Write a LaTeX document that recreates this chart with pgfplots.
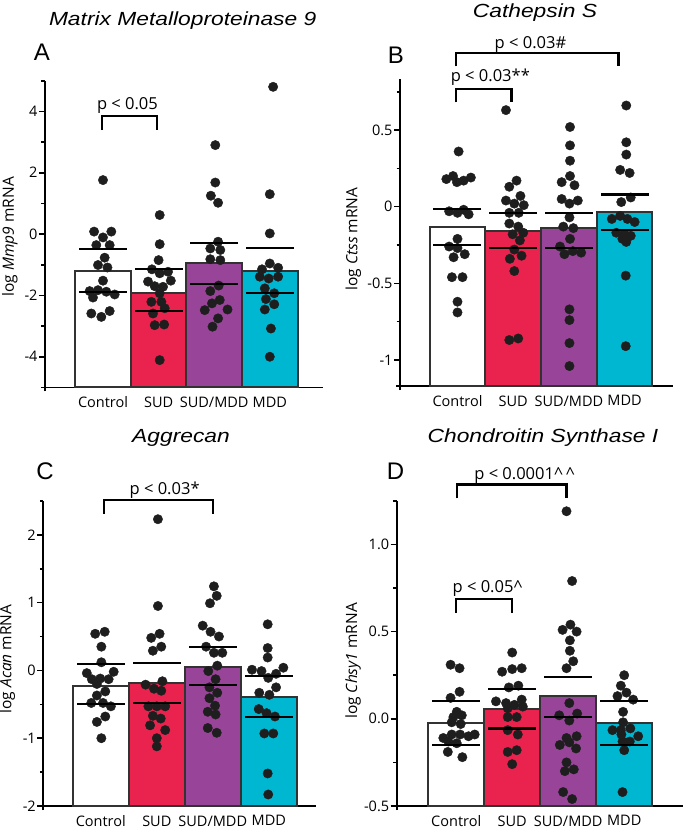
\documentclass[border=0pt]{standalone}
\usepackage{fontspec}
\usepackage{graphicx}
\usepackage{pgfplots}
\pgfplotsset{compat=1.18}
\setmainfont{Open Sans}
\newfontfamily\arial{Liberation Sans}

\definecolor{sud}{RGB}{233,35,77}
\definecolor{both}{RGB}{152,68,152}
\definecolor{mdd}{RGB}{0,183,210}
\definecolor{edge}{RGB}{50,50,50}
\definecolor{dot}{RGB}{30,30,30}

\newcommand\tk{\fontsize{14.5}{16}\selectfont}
\newcommand\lb{\fontsize{14.5}{16}\selectfont}
\newcommand\yl{\fontsize{15.5}{17}\selectfont}
\newcommand\sig{\fontsize{16.5}{18}\selectfont}
\newcommand\ttl[1]{\scalebox{1.2}[1]{\arial\itshape\fontsize{19}{21}\selectfont #1}}
\newcommand\pl{\arial\fontsize{24}{26}\selectfont}

\tikzset{brk/.style={line width=2.2pt, black}}
\pgfplotsset{
  panel/.style={
    scale only axis, anchor=south west, clip=false,
    axis lines=left,
    axis line style={-, line width=1.6pt, black, shorten <=-4pt},
    tick align=outside, major tick length=6pt, minor tick length=3.5pt,
    tick style={black, line width=1.6pt},
    xtick={1,2,3,4}, xticklabels={Control,SUD,SUD/MDD,MDD},
    xtick style={draw=none},
    yticklabel style={font=\tk, xshift=2pt}, xticklabel style={font=\lb},
    ylabel style={anchor=center, font=\yl},
  },
  bar/.style={draw=edge, line width=2pt},
  err/.style={only marks, mark=-, mark size=24pt, mark options={line width=2.2pt, black}},
  pts/.style={only marks, mark=*, mark size=4.7pt, color=dot},
}

\begin{document}
\begin{tikzpicture}
\path[use as bounding box] (0pt,0pt) rectangle (685pt,-831pt);

% ---------------- A: Mmp9
\begin{axis}[panel, at={(45pt,-387.4pt)}, width=278pt, height=306.7pt,
  xmin=-0.043, xmax=4.957, ymin=-5, ymax=5,
  ytick={-4,-2,0,2,4}, yticklabels={-4,-2,0,2,4},
  minor ytick={-3,-1,1,3,5},
  ylabel={log \textit{Mmp9} mRNA},
  ylabel style={at={(axis description cs:-0.126,0.491)}}]
\addplot[bar, fill=white] coordinates {(0.5,-5) (0.5,-1.2) (1.5,-1.2) (1.5,-5)} -- cycle;
\addplot[bar, fill=sud] coordinates {(1.5,-5) (1.5,-1.92) (2.5,-1.92) (2.5,-5)} -- cycle;
\addplot[bar, fill=both] coordinates {(2.5,-5) (2.5,-0.96) (3.5,-0.96) (3.5,-5)} -- cycle;
\addplot[bar, fill=mdd] coordinates {(3.5,-5) (3.5,-1.2) (4.5,-1.2) (4.5,-5)} -- cycle;
\addplot[pts] coordinates {(1.00,1.76) (0.84,0.08) (1.15,0.08) (1.00,-0.11) (0.88,-0.36) (1.12,-0.36)
  (1.03,-0.77) (0.91,-1.01) (1.08,-1.09) (1.00,-1.52) (0.76,-1.86) (0.91,-1.83) (1.06,-1.88)
  (1.21,-1.97) (0.82,-2.07) (0.79,-2.59) (0.97,-2.70) (1.12,-2.51)};
\addplot[pts] coordinates {(2.02,0.62) (2.02,-0.33) (2.00,-0.85) (1.88,-1.15) (2.02,-1.28) (2.17,-1.23)
  (1.81,-1.55) (2.22,-1.52) (2.08,-1.72) (1.93,-1.70) (2.02,-1.93) (1.87,-2.21) (2.05,-2.21)
  (2.11,-2.42) (1.90,-2.59) (1.93,-2.97) (2.10,-2.95) (2.02,-4.11)};
\addplot[pts] coordinates {(3.02,2.90) (3.02,1.68) (2.94,1.25) (3.07,1.02) (3.07,-0.25) (2.93,-0.47)
  (3.11,-0.52) (2.93,-0.82) (3.11,-0.85) (3.08,-1.68) (2.93,-1.86) (2.96,-2.26) (3.10,-2.15)
  (2.83,-2.48) (3.24,-2.46) (3.07,-2.75) (2.97,-3.02)};
\addplot[pts] coordinates {(4.06,4.80) (4.00,1.30) (4.00,0.02) (4.00,-0.96) (3.86,-1.15) (4.15,-1.10)
  (3.82,-1.39) (3.98,-1.45) (4.15,-1.39) (3.91,-1.77) (4.08,-1.93) (3.93,-2.12) (4.08,-2.29)
  (3.91,-2.46) (4.02,-3.08) (4.00,-4.00)};
\addplot[err] coordinates {(1,-0.48) (1,-1.89) (2,-1.15) (2,-2.52) (3,-0.30) (3,-1.64) (4,-0.46) (4,-1.91)};
\draw[brk] (axis cs:0.98,3.39) |- (axis cs:1.97,3.85) -- (axis cs:1.97,3.39);
\node[anchor=base, font=\sig] at (axis cs:1.44,4.07) {p < 0.05};
\end{axis}

% ---------------- B: Ctss
\begin{axis}[panel, at={(400pt,-386pt)}, width=273.3pt, height=307.3pt,
  xmin=-0.032, xmax=4.874, ymin=-1.17, ymax=0.835,
  ytick={-1,-0.5,0,0.5}, yticklabels={-1,-0.5,0,0.5},
  minor ytick={-0.75,-0.25,0.25,0.75},
  ylabel={log \textit{Ctss} mRNA},
  ylabel style={at={(axis description cs:-0.171,0.478)}}]
\addplot[bar, fill=white] coordinates {(0.5,-1.17) (0.5,-0.135) (1.5,-0.135) (1.5,-1.17)} -- cycle;
\addplot[bar, fill=sud] coordinates {(1.5,-1.17) (1.5,-0.157) (2.5,-0.157) (2.5,-1.17)} -- cycle;
\addplot[bar, fill=both] coordinates {(2.5,-1.17) (2.5,-0.14) (3.5,-0.14) (3.5,-1.17)} -- cycle;
\addplot[bar, fill=mdd] coordinates {(3.5,-1.17) (3.5,-0.033) (4.5,-0.033) (4.5,-1.17)} -- cycle;
\addplot[pts] coordinates {(1.02,0.36) (0.80,0.18) (0.92,0.20) (1.11,0.17) (0.99,0.16) (1.24,0.19)
  (0.85,-0.03) (1.00,-0.04) (1.11,-0.02) (1.20,-0.05) (1.00,-0.21) (0.85,-0.26) (1.00,-0.27)
  (0.93,-0.33) (1.13,-0.31) (0.90,-0.46) (1.09,-0.46) (1.00,-0.62) (1.00,-0.69)};
\addplot[pts] coordinates {(1.87,0.63) (2.06,0.17) (1.93,0.13) (2.13,0.07) (1.87,0.04) (2.02,0.02)
  (2.19,0.01) (1.93,-0.04) (2.10,-0.04) (1.93,-0.11) (2.09,-0.13) (2.18,-0.17) (1.99,-0.18)
  (2.12,-0.22) (2.02,-0.28) (1.94,-0.34) (2.15,-0.32) (2.02,-0.42) (1.93,-0.87) (2.09,-0.86)};
\addplot[pts] coordinates {(3.02,0.52) (3.02,0.40) (3.02,0.30) (3.02,0.20) (2.87,0.16) (3.10,0.14)
  (2.87,0.05) (3.01,0.02) (3.16,0.04) (3.01,-0.07) (2.90,-0.13) (3.08,-0.14) (3.02,-0.21)
  (2.84,-0.26) (2.92,-0.31) (3.07,-0.29) (3.22,-0.30) (3.01,-0.67) (3.01,-0.74) (3.01,-0.89)
  (3.01,-1.04)};
\addplot[pts] coordinates {(4.03,0.66) (4.03,0.42) (4.03,0.34) (3.92,0.24) (4.09,0.22) (4.11,0.06)
  (3.94,0.03) (3.77,-0.08) (3.92,-0.06) (4.05,-0.08) (4.18,-0.10) (3.85,-0.17) (4.00,-0.18)
  (4.11,-0.19) (3.96,-0.21) (4.03,-0.23) (4.02,-0.45) (4.02,-0.91)};
\addplot[err] coordinates {(1,-0.015) (1,-0.25) (2,-0.04) (2,-0.27) (3,-0.04) (3,-0.27) (4,0.08) (4,-0.15)};
\draw[brk] (axis cs:0.97,0.68) |- (axis cs:1.97,0.768) -- (axis cs:1.97,0.68);
\node[anchor=base, font=\sig] at (axis cs:1.59,0.815) {p < 0.03**};
\draw[brk] (axis cs:0.97,0.915) |- (axis cs:3.89,1.003) -- (axis cs:3.89,0.915);
\node[anchor=base, font=\sig] at (axis cs:2.31,1.035) {p < 0.03\#};
\end{axis}

% ---------------- C: Acan
\begin{axis}[panel, at={(43.3pt,-806pt)}, width=272.7pt, height=305.1pt,
  xmin=-0.027, xmax=4.843, ymin=-2, ymax=2.5,
  ytick={-2,-1,0,1,2}, yticklabels={-2,-1,0,1,2},
  minor ytick={-1.5,-0.5,0.5,1.5,2.5},
  ylabel={log \textit{Acan} mRNA},
  ylabel style={at={(axis description cs:-0.132,0.482)}}]
\addplot[bar, fill=white] coordinates {(0.5,-2) (0.5,-0.23) (1.5,-0.23) (1.5,-2)} -- cycle;
\addplot[bar, fill=sud] coordinates {(1.5,-2) (1.5,-0.19) (2.5,-0.19) (2.5,-2)} -- cycle;
\addplot[bar, fill=both] coordinates {(2.5,-2) (2.5,0.055) (3.5,0.055) (3.5,-2)} -- cycle;
\addplot[bar, fill=mdd] coordinates {(3.5,-2) (3.5,-0.39) (4.5,-0.39) (4.5,-2)} -- cycle;
\addplot[pts] coordinates {(0.90,0.54) (1.07,0.57) (1.01,0.35) (1.01,0.12) (0.75,-0.04) (1.23,-0.02)
  (0.84,-0.13) (0.99,-0.12) (1.14,-0.13) (0.93,-0.20) (1.08,-0.31) (0.93,-0.37) (0.83,-0.48)
  (1.04,-0.48) (1.18,-0.53) (1.08,-0.68) (0.93,-0.76) (1.01,-1.00)};
\addplot[pts] coordinates {(2.02,2.23) (2.02,0.95) (1.90,0.48) (2.05,0.54) (1.93,0.29) (2.08,0.35)
  (1.80,-0.21) (2.10,-0.16) (1.95,-0.27) (2.08,-0.30) (1.85,-0.53) (2.00,-0.53) (2.15,-0.53)
  (1.93,-0.67) (2.07,-0.71) (1.88,-0.81) (2.15,-0.88) (2.00,-1.00) (2.00,-1.12)};
\addplot[pts] coordinates {(3.02,1.24) (3.07,1.10) (2.95,0.99) (2.82,0.66) (2.96,0.57) (3.11,0.50)
  (2.88,0.35) (3.02,0.26) (3.17,0.26) (3.08,0.07) (2.92,-0.01) (3.05,-0.13) (2.94,-0.25)
  (3.08,-0.33) (2.94,-0.41) (3.04,-0.52) (2.91,-0.61) (3.05,-0.65) (2.91,-0.85) (3.07,-0.92)};
\addplot[pts] coordinates {(3.98,0.68) (3.98,0.33) (3.98,0.19) (3.70,0.01) (3.87,-0.01) (4.26,0.04)
  (4.13,-0.05) (3.99,-0.11) (4.13,-0.25) (3.83,-0.33) (4.01,-0.36) (3.82,-0.57) (3.96,-0.63)
  (4.11,-0.68) (3.92,-0.93) (4.08,-0.93) (3.98,-1.52) (3.99,-1.83)};
\addplot[err] coordinates {(1,0.09) (1,-0.49) (2,0.11) (2,-0.48) (3,0.35) (3,-0.21) (4,-0.08) (4,-0.69)};
\draw[brk] (axis cs:1.06,2.31) |- (axis cs:3.01,2.51) -- (axis cs:3.01,2.31);
\node[anchor=base, font=\sig] at (axis cs:2.14,2.59) {p < 0.03*};
\end{axis}

% ---------------- D: Chsy1
\begin{axis}[panel, at={(396.7pt,-806pt)}, width=286.3pt, height=305.2pt,
  xmin=-0.0625, xmax=5.05, ymin=-0.5, ymax=1.25,
  ytick={-0.5,0,0.5,1}, yticklabels={-0.5,0.0,0.5,1.0},
  minor ytick={-0.25,0.25,0.75,1.25},
  ylabel={log \textit{Chsy1} mRNA},
  ylabel style={at={(axis description cs:-0.152,0.475)}}]
\addplot[bar, fill=white] coordinates {(0.5,-0.5) (0.5,-0.023) (1.5,-0.023) (1.5,-0.5)} -- cycle;
\addplot[bar, fill=sud] coordinates {(1.5,-0.5) (1.5,0.054) (2.5,0.054) (2.5,-0.5)} -- cycle;
\addplot[bar, fill=both] coordinates {(2.5,-0.5) (2.5,0.13) (3.5,0.13) (3.5,-0.5)} -- cycle;
\addplot[bar, fill=mdd] coordinates {(3.5,-0.5) (3.5,-0.026) (4.5,-0.026) (4.5,-0.5)} -- cycle;
\addplot[pts] coordinates {(0.90,0.31) (1.06,0.29) (1.06,0.155) (0.90,0.12) (1.01,0.04) (0.95,0.01)
  (1.10,0.02) (0.92,-0.02) (1.08,-0.03) (0.77,-0.11) (0.92,-0.09) (1.07,-0.09) (1.22,-0.10)
  (1.33,-0.09) (0.86,-0.13) (1.01,-0.14) (0.85,-0.19) (1.11,-0.22)};
\addplot[pts] coordinates {(2.00,0.38) (1.82,0.27) (2.00,0.285) (2.17,0.29) (1.94,0.18) (2.11,0.19)
  (1.71,0.10) (1.89,0.09) (2.17,0.11) (1.92,0.06) (2.04,0.08) (2.19,0.07) (1.92,0.01)
  (2.08,0.01) (1.92,-0.065) (2.10,-0.09) (1.92,-0.19) (2.08,-0.18) (2.00,-0.26)};
\addplot[pts] coordinates {(2.97,1.19) (3.07,0.79) (3.04,0.54) (2.90,0.51) (3.15,0.50) (3.03,0.45)
  (3.03,0.39) (3.09,0.33) (2.97,0.29) (3.02,0.09) (2.84,0.02) (3.16,0.03) (3.02,-0.01)
  (2.97,-0.11) (3.15,-0.10) (2.85,-0.15) (3.02,-0.135) (3.14,-0.17) (2.97,-0.25) (3.10,-0.29)
  (2.94,-0.30) (2.91,-0.42) (3.07,-0.46)};
\addplot[pts] coordinates {(4.00,0.25) (3.94,0.19) (3.88,0.13) (4.04,0.15) (4.16,0.11) (3.98,0.04)
  (3.98,-0.02) (3.79,-0.065) (3.94,-0.065) (4.11,-0.055) (3.95,-0.09) (4.25,-0.10) (4.10,-0.13)
  (3.97,-0.13) (4.00,-0.18) (3.97,-0.42)};
\addplot[err] coordinates {(1,0.10) (1,-0.15) (2,0.17) (2,-0.055) (3,0.24) (3,0.01) (4,0.10) (4,-0.15)};
\draw[brk] (axis cs:1.00,0.608) |- (axis cs:1.99,0.686) -- (axis cs:1.99,0.608);
\node[anchor=base, font=\sig] at (axis cs:1.56,0.722) {p < 0.05\textasciicircum};
\draw[brk] (axis cs:1.01,1.264) |- (axis cs:2.97,1.344) -- (axis cs:2.97,1.264);
\node[anchor=base, font=\sig] at (axis cs:2.22,1.373) {p < 0.0001\textasciicircum\,\textasciicircum};
\end{axis}

% titles and panel letters
\node[anchor=base] at (182.7pt,-25pt) {\ttl{Matrix Metalloproteinase 9}};
\node[anchor=base] at (535pt,-17.3pt) {\ttl{Cathepsin S}};
\node[anchor=base] at (181pt,-442.7pt) {\ttl{Aggrecan}};
\node[anchor=base] at (543pt,-442.7pt) {\ttl{Chondroitin Synthase I}};
\node[anchor=base, font=\pl] at (42pt,-60.5pt) {A};
\node[anchor=base, font=\pl] at (396pt,-63pt) {B};
\node[anchor=base, font=\pl] at (45pt,-479pt) {C};
\node[anchor=base, font=\pl] at (395.5pt,-479pt) {D};
\end{tikzpicture}
\end{document}
